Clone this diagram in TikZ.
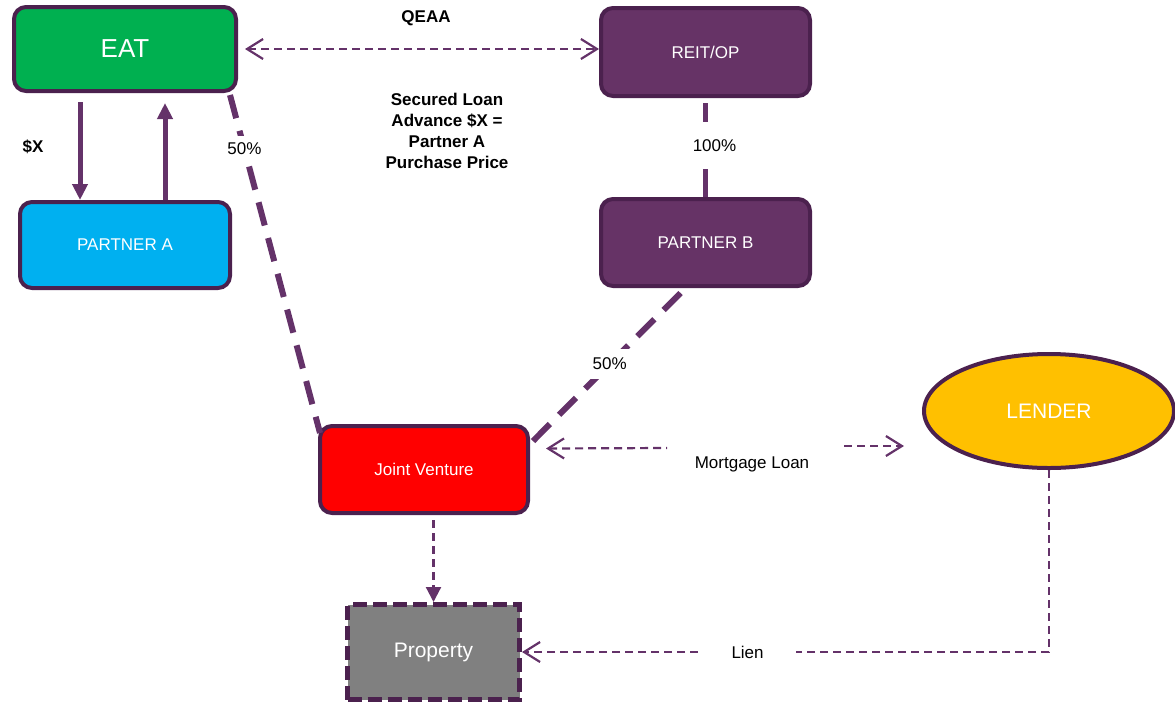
\documentclass[tikz,border=0pt]{standalone}
\usepackage{fontspec}
\setmainfont{Liberation Sans}
\usepackage{tikz}
\usetikzlibrary{arrows.meta, calc, shapes.geometric}

\definecolor{eatgreen}{RGB}{0,176,80}
\definecolor{partnerblue}{RGB}{0,176,240}
\definecolor{reitpurple}{RGB}{102,51,102}
\definecolor{borderpurple}{RGB}{75,33,78}
\definecolor{linkpurple}{RGB}{100,50,105}
\definecolor{jvred}{RGB}{255,0,0}
\definecolor{propgray}{RGB}{128,128,128}
\definecolor{lenderyellow}{RGB}{255,192,0}

\begin{document}
\begin{tikzpicture}[x=1pt,y=-1pt]
        \tikzset{BoxStyle/.style = {shape = rectangle,rounded corners=12pt,draw=borderpurple,line width=4pt,text=white,inner sep=0,font=\fontsize{17}{20}\selectfont}}
        \tikzset{LinkStyle/.style = {draw=linkpurple,line width=2.2pt,dash pattern=on 8pt off 5pt}}
        \tikzset{ShareStyle/.style = {draw=linkpurple,line width=6pt,dash pattern=on 24pt off 13pt}}
        \tikzset{TextStyle/.style = {font=\fontsize{17}{21}\selectfont,inner sep=2pt}}
        \tikzset{OpenTip/.tip = {Straight Barb[length=16pt,width=20pt]}}
        \useasboundingbox (0,0) rectangle (1175,702);

    \node[BoxStyle,fill=eatgreen,minimum width=222pt,minimum height=84pt,font=\fontsize{26}{30}\selectfont] at (125,49) (EAT) {EAT};
    \node[BoxStyle,fill=partnerblue,minimum width=210pt,minimum height=86pt] at (125,245) (PA) {PARTNER A};
    \node[BoxStyle,fill=reitpurple,minimum width=209pt,minimum height=88pt] at (705.5,52) (REIT) {REIT/OP};
    \node[BoxStyle,fill=reitpurple,minimum width=209pt,minimum height=87pt] at (705.5,242.5) (PB) {PARTNER B};
    \node[BoxStyle,fill=jvred,minimum width=208pt,minimum height=87pt] at (424,469.5) (JV) {Joint Venture};
    \node[BoxStyle,sharp corners,fill=propgray,line width=5pt,dash pattern=on 14pt off 6pt,minimum width=172pt,minimum height=95pt,font=\fontsize{21}{24}\selectfont] at (433.5,652) (Property) {Property};
    \node[BoxStyle,shape=ellipse,fill=lenderyellow,minimum width=250pt,minimum height=114pt,font=\fontsize{21}{24}\selectfont] at (1049,411) (LENDER) {LENDER};

    % texts
    \node[TextStyle,font=\fontsize{17}{21}\selectfont\bfseries] at (426,18) (qeaa) {QEAA};
    \node[TextStyle,font=\fontsize{17}{21}\selectfont\bfseries,align=center] at (447,130.5) (secured) {Secured Loan\\Advance \$X =\\Partner A\\Purchase Price};
    \node[TextStyle,font=\fontsize{17}{21}\selectfont\bfseries] at (33,147) (dollarx) {\$X};
    \node[TextStyle] at (752,464) (mortgage) {Mortgage Loan};

    % EAT <-> PARTNER A
    \draw[linkpurple,line width=5pt,-{Triangle[length=16pt,width=15pt]},shorten <=9pt]
        ($(EAT.south)+(-45,0)$) -- ($(PA.north)+(-45,0)$);
    \draw[linkpurple,line width=5pt,-{Triangle[length=16pt,width=15pt]},shorten >=10pt]
        ($(PA.north)+(40,0)$) -- ($(EAT.south)+(40,0)$);

    % QEAA
    \draw[LinkStyle,OpenTip-OpenTip,shorten <=7pt]
        (EAT.east) -- (EAT.east -| REIT.west);

    % ownership
    \draw[ShareStyle]
        ($(EAT.south east)+(-8,2)$) -- node[pos=0.16,fill=white,text=black,inner sep=7pt,font=\fontsize{17}{20}\selectfont] {50\%}
        ($(JV.north west)+(2,9)$);
    \draw[ShareStyle]
        ($(PB.south)+(-25,5)$) -- node[pos=0.48,fill=white,text=black,inner sep=9pt,font=\fontsize{17}{20}\selectfont] {50\%}
        ($(JV.north east)+(3,17)$);
    \draw[linkpurple,line width=5pt,shorten <=5pt]
        (REIT.south) -- node[midway,fill=white,text=black,inner xsep=2pt,inner ysep=17pt,xshift=9pt,yshift=2pt,font=\fontsize{17}{20}\selectfont] {100\%}
        (PB.north);

    % JV -> Property
    \draw[LinkStyle,-{Triangle[length=15pt,width=15pt]},shorten <=5pt]
        (Property.north |- JV.south) -- (Property.north);

    % mortgage loan
    \coordinate (mlLeft) at (667,448);
    \coordinate (mlRight) at (844,446);
    \draw[LinkStyle,OpenTip-]
        ($(JV.east)+(16,-21)$) -- (mlLeft);
    \draw[LinkStyle,-OpenTip]
        (mlRight) -- ($(LENDER.west)+(-18,35)$);

    % lien
    \draw[LinkStyle,-OpenTip]
        (LENDER.south) |- node[pos=0.786,fill=white,text=black,inner xsep=32pt,inner ysep=4pt,font=\fontsize{17}{20}\selectfont] {Lien}
        (Property.east);
\end{tikzpicture}
\end{document}
